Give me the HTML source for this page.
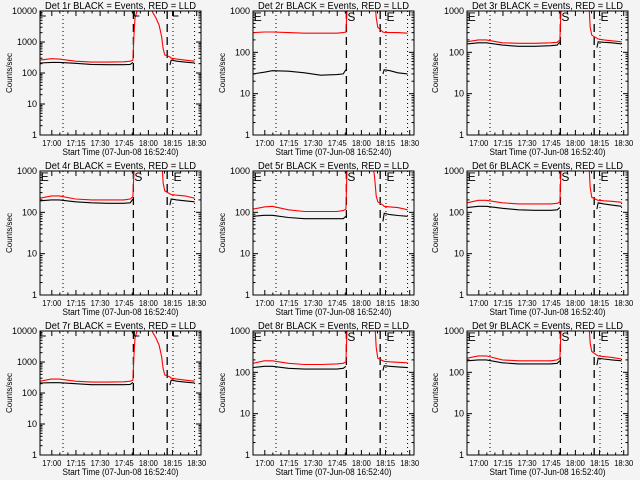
<!DOCTYPE html>
<html><head><meta charset="utf-8">
<style>
html,body{margin:0;padding:0;background:#f4f4f4;}
svg{display:block;}
text{font-family:"Liberation Sans",sans-serif;fill:#000;}
</style></head>
<body>
<svg id="chart" width="640" height="480" viewBox="0 0 640 480" xmlns="http://www.w3.org/2000/svg">
<rect width="640" height="480" fill="#f4f4f4"/>
</svg>
<script>
// ---- data ----
const detectors = ["1r","2r","3r","4r","5r","6r","7r","8r","9r"];
const yMaxes = [10000,1000,1000,1000,1000,1000,10000,1000,1000];
const xTickLabels = ["17:00","17:15","17:30","17:45","18:00","18:15","18:30"];
const xTickMinutes = [7.33,22.33,37.33,52.33,67.33,82.33,97.33];
// minutes since 16:52:40
const preTimes = [0,7,12,22,32,42,52,56,57.7];
const flareTimes = [58.3,59,62,68,70,72,74,75.5,76.5,77.5];
const postTimes = [80.7,81.5,85,90,96];
const dottedTimes = [14.3,82.6,96];
const dashedTimes = [58,79];
const blackPre = [
 [210,220,220,205,190,185,185,190,220],
 [30,33,36,35,32,28,29,30,38],
 [160,170,170,150,140,140,145,150,180],
 [190,200,200,180,170,165,165,170,210],
 [80,85,85,75,70,70,70,70,80],
 [130,140,140,125,115,112,112,115,130],
 [210,215,215,200,185,185,185,190,220],
 [130,140,140,125,120,120,120,125,140],
 [190,200,200,170,160,160,160,165,190]];
const blackPost = [
 [180,260,240,225,210],
 [30,38,36,32,30],
 [130,180,175,170,160],
 [150,210,200,190,180],
 [60,95,88,84,80],
 [120,170,160,150,140],
 [180,260,240,225,210],
 [110,145,140,135,130],
 [150,220,210,200,190]];
const redPre = [
 [260,290,280,240,225,225,230,240,260],
 [300,310,310,300,290,290,290,300,310],
 [180,200,200,170,165,165,170,175,200],
 [220,250,250,210,200,200,200,210,240],
 [120,135,140,115,105,105,105,110,120],
 [170,195,195,170,160,160,160,165,180],
 [240,280,280,240,225,225,230,240,260],
 [165,190,190,165,155,155,160,165,180],
 [220,250,250,200,190,190,190,200,220]];
const redFlare = [
 [1500,6000,20000,20000,9000,6000,3500,1500,600,380],
 [900,3000,9000,9000,9000,9000,9000,2000,700,400],
 [900,3000,9000,9000,9000,9000,9000,2000,400,260],
 [900,3000,9000,9000,9000,9000,9000,2000,500,330],
 [900,3000,9000,9000,9000,9000,2000,700,250,180],
 [900,3000,9000,9000,9000,9000,9000,2000,400,230],
 [1500,6000,20000,20000,9000,6000,3500,1500,600,380],
 [900,3000,9000,9000,9000,9000,9000,2000,400,220],
 [900,3000,9000,9000,9000,9000,9000,2000,500,320]];
const redPost = [
 [330,300,280,260,240],
 [310,305,300,300,290],
 [220,210,200,190,180],
 [280,270,260,250,220],
 [150,140,135,130,115],
 [200,195,190,185,175],
 [330,300,280,260,240],
 [190,185,180,175,170],
 [260,250,240,230,210]];

// ---- drawing ----
const NS = "http://www.w3.org/2000/svg";
const svg = document.getElementById("chart");
function mk(tag, attrs, parent){
  const e = document.createElementNS(NS, tag);
  for (const k in attrs) e.setAttribute(k, attrs[k]);
  (parent||svg).appendChild(e);
  return e;
}
const colX = [0,213,426], rowY = [0,160,320];
const W = 161, TOPOFF = 11, H = 124;

detectors.forEach((det, i) => {
  const c = i % 3, r = Math.floor(i / 3);
  const L = colX[c] + (c === 2 ? 41 : 40), T = rowY[r] + TOPOFF, R = L + W, B = T + H;
  const ymax = yMaxes[i], dec = Math.log10(ymax);
  const xs = t => L + t / 100 * W;
  const ys = v => B - Math.log10(Math.max(v, 0.5)) / dec * H;
  const g = mk("g", {});
  
  

  const clip = mk("clipPath", {id: "clip" + i}, g);
  mk("rect", {x: L, y: T, width: W, height: H}, clip);

  const title = mk("text", {x: (L + R) / 2, y: rowY[r] + 9, "text-anchor": "middle", "font-size": "10", textLength: "151", lengthAdjust: "spacingAndGlyphs"}, g);
  title.textContent = "Det " + det + " BLACK = Events, RED = LLD";
  
  

  for (let d = 0; d <= dec; d++) {
    const y = ys(Math.pow(10, d));
    mk("line", {x1: L, x2: L + 5, y1: y, y2: y, stroke: "#000"}, g);
    mk("line", {x1: R - 5, x2: R, y1: y, y2: y, stroke: "#000"}, g);
    const lb = mk("text", {x: L - 3, y: y + 3, "text-anchor": "end", "font-size": "9"}, g);
    lb.textContent = String(Math.pow(10, d));
    
    
    if (d < dec) for (let m = 2; m <= 9; m++) {
      const ym = ys(m * Math.pow(10, d));
      mk("line", {x1: L, x2: L + 2.5, y1: ym, y2: ym, stroke: "#000"}, g);
      mk("line", {x1: R - 2.5, x2: R, y1: ym, y2: ym, stroke: "#000"}, g);
    }
  }
  xTickMinutes.forEach((t, k) => {
    const x = xs(t);
    mk("line", {x1: x, x2: x, y1: B, y2: B - 5, stroke: "#000"}, g);
    mk("line", {x1: x, x2: x, y1: T, y2: T + 5, stroke: "#000"}, g);
    for (let m = 1; m < 3; m++) {
      const xm = xs(t + m * 5);
      if (t + m * 5 <= 100) {
        mk("line", {x1: xm, x2: xm, y1: B, y2: B - 2.5, stroke: "#000"}, g);
        mk("line", {x1: xm, x2: xm, y1: T, y2: T + 2.5, stroke: "#000"}, g);
      }
    }
    const lb = mk("text", {x: x, y: B + 11, "text-anchor": "middle", "font-size": "8", textLength: "19", lengthAdjust: "spacingAndGlyphs"}, g);
    lb.textContent = xTickLabels[k];
    
    
  });
  const xt = mk("text", {x: (L + R) / 2, y: B + 20, "text-anchor": "middle", "font-size": "9", textLength: "116", lengthAdjust: "spacingAndGlyphs"}, g);
  xt.textContent = "Start Time (07-Jun-08 16:52:40)";
  
  
  const yt = mk("text", {x: 0, y: 0, "text-anchor": "middle", "font-size": "8", transform: "translate(" + (colX[c] + 12) + "," + ((T + B) / 2) + ") rotate(-90)"}, g);
  yt.textContent = "Counts/sec";
  
  

  const cg = mk("g", {"clip-path": "url(#clip" + i + ")"}, g);
  dottedTimes.forEach(t => {
    const l = mk("line", {x1: xs(t), x2: xs(t), y1: T, y2: B, stroke: "#000", "stroke-dasharray": "1,3"}, cg);
    
    
  });
  dashedTimes.forEach(t => {
    const l = mk("line", {x1: xs(t), x2: xs(t), y1: T, y2: B, stroke: "#000", "stroke-width": "1.3", "stroke-dasharray": "8,5"}, cg);
    
    
  });
  if (ymax === 1000) {
    [[0.5, "E"], [58.6, "S"], [82.9, "E"]].forEach(([t, s]) => {
      const tx = mk("text", {x: xs(t), y: T + 10, "font-size": "12"}, g);
      tx.textContent = s;
      
      
    });
  } else {
    [0.5, 58.6, 82.9].forEach(t => {
      mk("path", {d: "M" + xs(t) + "," + T + "V" + (T + 5) + "h5", stroke: "#000", fill: "none"}, g);
    });
  }
  const pts = (ts, vs) => ts.map((t, k) => xs(t).toFixed(1) + "," + ys(vs[k]).toFixed(1)).join(" ");
  const redT = preTimes.concat(flareTimes, postTimes);
  const redV = redPre[i].concat(redFlare[i], redPost[i]);
  const rl = mk("polyline", {points: pts(redT, redV), fill: "none", stroke: "#ff0000", "stroke-width": "1.1"}, cg);
  
  
  const b1 = mk("polyline", {points: pts(preTimes, blackPre[i]), fill: "none", stroke: "#000", "stroke-width": "1.1"}, cg);
  
  
  const b2 = mk("polyline", {points: pts(postTimes, blackPost[i]), fill: "none", stroke: "#000", "stroke-width": "1.1"}, cg);
  
  

  const fr = mk("rect", {x: L, y: T, width: W, height: H, fill: "none", stroke: "#000"}, g);
  
  
});
</script>
</body></html>
